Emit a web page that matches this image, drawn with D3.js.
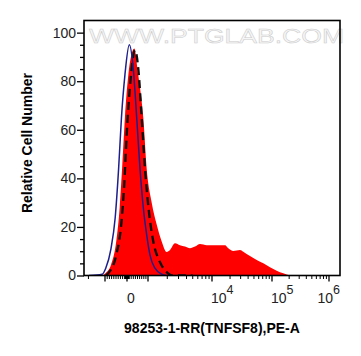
<!DOCTYPE html>
<html>
<head>
<meta charset="utf-8">
<script src="https://cdn.jsdelivr.net/npm/d3@7/dist/d3.min.js"></script>
<style>
body{margin:0;background:#fff;}
text{font-family:"Liberation Sans",Arial,sans-serif;}
</style>
</head>
<body>
<div id="chart"></div>
<script>
// histograms, [PE-A value, relative count]
var sample = [[-1114,0],[-967,1],[-729,4.3],[-490,14],[-333,28],[-224,44],[-95,65],[62,82.5],
    [348,93.5],[538,82.5],[776,65],[938,44],[1143,30],[1367,21],[1637,14],[1959,9.7],[2207,10.5],
    [2642,13.3],[3162,12.5],[3786,11.9],[4530,11.2],[5426,11.9],[6494,13],[8282,12.5],[10512,12.5],
    [13590,12.5],[16480,12.5],[18700,11.2],[22650,10.1],[29290,10.5],[33240,9.8],[42970,8],
    [55600,6.4],[71700,5],[92600,3.4],[120900,2],[157800,0.9],[207000,0]];
var isotype = [[-952,0],[-810,1.4],[-490,8.4],[-252,22],[-129,37],[-14,58],[143,78],[381,92.8],
    [538,85],[700,65],[857,44],[1037,26],[1210,14],[1540,5.5],[1959,1.4],[2371,0],[5000,0]];
var control = [[-1950,0],[-1126,0.5],[-967,3],[-729,11],[-538,23.7],[-381,44],[-252,65],[-95,82.5],
    [110,95],[300,85],[462,65],[619,44],[776,28],[938,16.7],[1075,8.4],[1286,3],[1637,0.6],[1910,0]];

var yMajor = [0,20,40,60,80,100];
var yMinor = d3.range(5,105,5).filter(function(d){return d%20!=0;});
var xMajor = [-1e3,0,1e3,1e4,1e5,1e6];
var xLabelVals = [0,1e4,1e5,1e6];
var xLabelExp = ["","4","5","6"];

var W = 361, H = 356;
var plotLeft = 84, plotRight = 340, plotTop = 20.5, plotBottom = 275.5;

// biexponential-like display transform: linear inside +-1000, log decades outside
function u(v){
    return Math.abs(v) <= 1e3 ? v/1e3 : Math.sign(v)*(1+Math.log10(Math.abs(v)/1e3));
}
var xs = d3.scaleLinear().domain([-2,-1,0,1,2,3,4]).range([50,105,127,148,212,272,329]);
var x = function(v){ return xs(u(v)); };
var y = d3.scaleLinear().domain([0,105]).range([plotBottom,plotTop]);

var xMinor = [];
d3.range(10,100,10).forEach(function(d){ xMinor.push(d,-d); });
d3.range(100,1000,100).forEach(function(d){ xMinor.push(d,-d); });
[1e3,1e4,1e5].forEach(function(dec){
    d3.range(2,10).forEach(function(m){ xMinor.push(m*dec); });
});
xMinor.push(-2e3);
xMinor = xMinor.filter(function(v){ return x(v) >= plotLeft && x(v) <= plotRight; });

var svg = d3.select("#chart").append("svg")
    .attr("width",W).attr("height",H);

svg.append("clipPath").attr("id","plotclip")
    .append("rect").attr("x",plotLeft).attr("y",plotTop)
    .attr("width",plotRight-plotLeft).attr("height",plotBottom-plotTop);

// watermark
svg.append("text")
    .attr("x",89).attr("y",43)
    .attr("textLength",255).attr("lengthAdjust","spacingAndGlyphs")
    .style("font-size","21px")
    .attr("fill","#f6f6f6").attr("stroke","#cccccc").attr("stroke-width",0.5)
    .text("WWW.PTGLAB.COM");

var g = svg.append("g").attr("clip-path","url(#plotclip)");

var area = d3.area()
    .x(function(d){ return x(d[0]); })
    .y0(y(0))
    .y1(function(d){ return y(d[1]); })
    .curve(d3.curveMonotoneX);
var line = d3.line()
    .x(function(d){ return x(d[0]); })
    .y(function(d){ return y(d[1]); })
    .curve(d3.curveMonotoneX);

g.append("path").datum(sample)
    .attr("d",area).attr("fill","#ff0000");
g.append("path").datum(isotype)
    .attr("d",line).attr("fill","none")
    .attr("stroke","#111").attr("stroke-width",2.4)
    .attr("stroke-dasharray","8,5");
g.append("path").datum(control)
    .attr("d",line).attr("fill","none")
    .attr("stroke","#1e1e8c").attr("stroke-width",1.5);

// frame
svg.append("rect")
    .attr("x",plotLeft).attr("y",plotTop)
    .attr("width",plotRight-plotLeft).attr("height",plotBottom-plotTop)
    .attr("fill","none").attr("stroke","#000").attr("stroke-width",1.6);

// y axis
var yAxis = svg.append("g").attr("transform","translate("+plotLeft+",0)")
    .call(d3.axisLeft(y).tickValues(yMajor).tickSize(7).tickPadding(1));
svg.append("g").attr("transform","translate("+plotLeft+",0)")
    .call(d3.axisLeft(y).tickValues(yMinor).tickSize(4).tickFormat(""));
svg.selectAll(".domain").remove();
yAxis.selectAll("text").style("font-size","14px").attr("fill","#222");
svg.selectAll(".tick line").attr("stroke","#000").attr("stroke-width",1.3);

// x axis ticks
svg.append("g").selectAll("line.major").data(xMajor).enter().append("line")
    .attr("x1",x).attr("x2",x)
    .attr("y1",plotBottom).attr("y2",plotBottom+6)
    .attr("stroke","#000").attr("stroke-width",1.3);
svg.append("g").selectAll("line.minor").data(xMinor).enter().append("line")
    .attr("x1",x).attr("x2",x)
    .attr("y1",plotBottom).attr("y2",plotBottom+3.5)
    .attr("stroke","#000").attr("stroke-width",1);

var lab = svg.append("g").selectAll("text").data(xLabelVals).enter().append("text")
    .attr("y",302.5)
    .attr("fill","#222")
    .style("font-size","14px")
    .attr("x",function(d,i){
        if (xLabelExp[i]=="") return x(d)+4;
        if (i==xLabelVals.length-1) return plotRight;
        return x(d)-1;
    })
    .attr("text-anchor",function(d,i){
        if (xLabelExp[i]=="") return "middle";
        return i==xLabelVals.length-1 ? "end" : "start";
    });
lab.each(function(d,i){
    var t = d3.select(this);
    if (xLabelExp[i]=="") { t.text("0"); return; }
    t.append("tspan").text("10");
    t.append("tspan").attr("dy",-9).style("font-size","12.5px").text(xLabelExp[i]);
});

// titles
svg.append("text")
    .attr("x",(plotLeft+plotRight)/2).attr("y",333)
    .attr("text-anchor","middle")
    .style("font-size","14px").style("font-weight","bold")
    .text("98253-1-RR(TNFSF8),PE-A");
svg.append("text")
    .attr("transform","translate(32,143) rotate(-90)")
    .attr("text-anchor","middle")
    .style("font-size","14px").style("font-weight","bold")
    .text("Relative Cell Number");
</script>
</body>
</html>
